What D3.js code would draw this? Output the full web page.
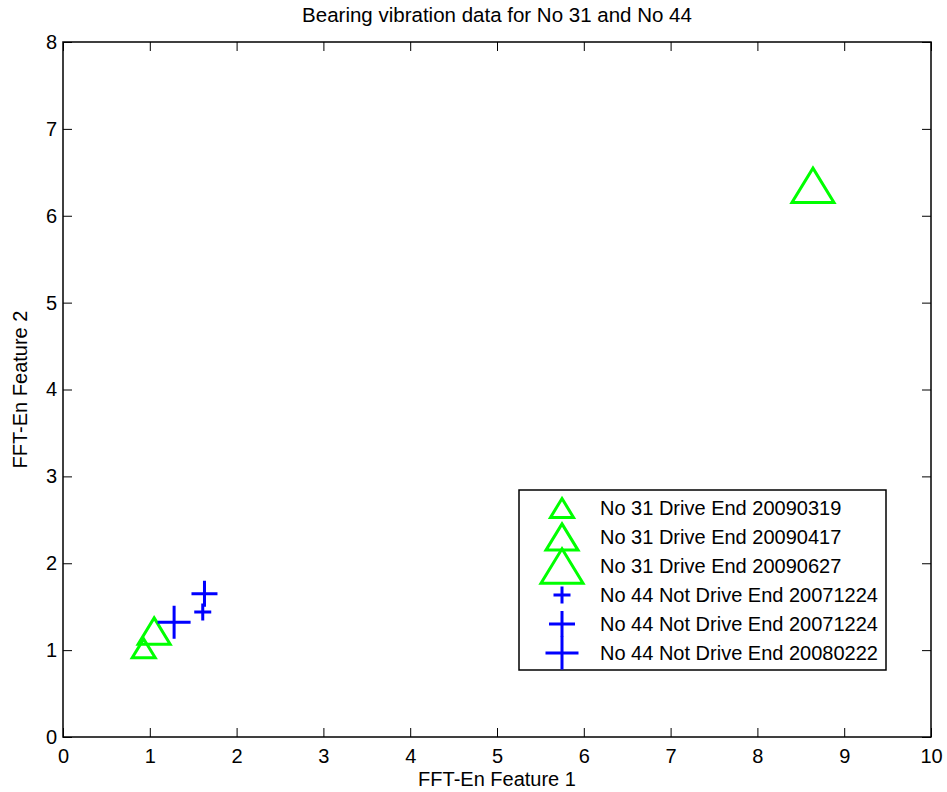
<!DOCTYPE html>
<html><head><meta charset="utf-8">
<script src="https://cdn.jsdelivr.net/npm/d3@7"></script>
<style>body{margin:0;background:#fff}svg{display:block}text{font-family:"Liberation Sans",Arial,sans-serif;fill:#000}</style>
</head><body>
<svg id="c" width="947" height="792"></svg>
<script>
const seriesNames = ["No 31 Drive End 20090319","No 31 Drive End 20090417","No 31 Drive End 20090627",
  "No 44 Not Drive End 20071224","No 44 Not Drive End 20071224","No 44 Not Drive End 20080222"];
const seriesX = [0.93, 1.05, 8.64, 1.61, 1.63, 1.28];
const seriesY = [1.02, 1.22, 6.35, 1.44, 1.65, 1.32];
const seriesShape = ["tri","tri","tri","plus","plus","plus"];
const seriesSize = [23, 32, 42, 17, 26, 33];
const xTicks = [0,1,2,3,4,5,6,7,8,9,10];
const yTicks = [0,1,2,3,4,5,6,7,8];

const svg = d3.select("#c");
const L=63, R=931, T=42, B=737;
const x = d3.scaleLinear().domain([0,10]).range([L,R]);
const y = d3.scaleLinear().domain([0,8]).range([B,T]);
const colorOf = s => s==="tri" ? "#00ff00" : "#0000ff";

function markerPath(shape, s){
  if(shape==="tri"){
    const w=s, h=s*0.82;
    return `M0,${-h/2}L${w/2},${h/2}L${-w/2},${h/2}Z`;
  }
  return `M${-s/2},0H${s/2}M0,${-s/2}V${s/2}`;
}

const tl = 9;
svg.append("g").attr("transform",`translate(0,${B})`)
  .call(d3.axisBottom(x).tickValues(xTicks).tickSize(-tl).tickPadding(12).tickFormat(d3.format("d")))
  .call(g=>{g.select(".domain").remove();g.selectAll("text").attr("font-size",20).attr("font-family","Liberation Sans").attr("fill","#000");});
svg.append("g").attr("transform",`translate(0,${T})`)
  .call(d3.axisTop(x).tickValues(xTicks).tickSize(-tl).tickFormat(""))
  .call(g=>g.select(".domain").remove());
svg.append("g").attr("transform",`translate(${L},0)`)
  .call(d3.axisLeft(y).tickValues(yTicks).tickSize(-tl).tickPadding(6).tickFormat(d3.format("d")))
  .call(g=>{g.select(".domain").remove();g.selectAll("text").attr("font-size",20).attr("font-family","Liberation Sans").attr("fill","#000");});
svg.append("g").attr("transform",`translate(${R},0)`)
  .call(d3.axisRight(y).tickValues(yTicks).tickSize(-tl).tickFormat(""))
  .call(g=>g.select(".domain").remove());
svg.selectAll(".tick line").attr("stroke","#000").attr("stroke-width",1);
svg.append("rect").attr("x",L).attr("y",T).attr("width",R-L).attr("height",B-T)
  .attr("fill","none").attr("stroke","#000").attr("stroke-width",1.5);

seriesX.forEach((vx,i)=>{
  svg.append("path").attr("d",markerPath(seriesShape[i],seriesSize[i]))
    .attr("transform",`translate(${x(vx)},${y(seriesY[i])})`)
    .attr("fill","none").attr("stroke",colorOf(seriesShape[i])).attr("stroke-width",3);
});

svg.append("text").attr("x",(L+R)/2).attr("y",22).attr("text-anchor","middle").attr("font-size",20.5).text("Bearing vibration data for No 31 and No 44");
svg.append("text").attr("x",(L+R)/2).attr("y",786).attr("text-anchor","middle").attr("font-size",20).text("FFT-En Feature 1");
svg.append("text").attr("transform",`translate(27,${(T+B)/2}) rotate(-90)`).attr("text-anchor","middle").attr("font-size",20).text("FFT-En Feature 2");

const lg = svg.append("g");
lg.append("rect").attr("x",519).attr("y",490).attr("width",367).attr("height",180).attr("fill","#fff").attr("stroke","#000").attr("stroke-width",1.5);
const rowY = [508,537,566,595,624,653];
seriesNames.forEach((n,i)=>{
  lg.append("path").attr("d",markerPath(seriesShape[i],seriesSize[i]))
    .attr("transform",`translate(562,${rowY[i]})`)
    .attr("fill","none").attr("stroke",colorOf(seriesShape[i])).attr("stroke-width",3);
  lg.append("text").attr("x",600).attr("y",rowY[i]).attr("dy","0.35em").attr("font-size",20).text(n);
});
</script>
</body></html>
